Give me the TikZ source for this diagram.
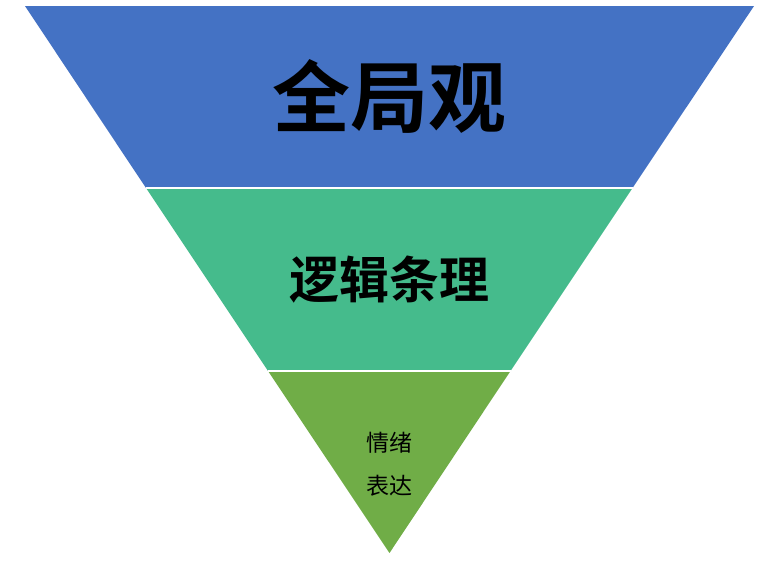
\documentclass[tikz,border=0pt]{standalone}
\usepackage{fontspec}
\newfontfamily\cjk{Noto Sans CJK SC}[BoldFont={Noto Sans CJK SC Bold}]
\definecolor{topblue}{HTML}{4472C4}
\definecolor{midgreen}{HTML}{45BB8C}
\definecolor{lowgreen}{HTML}{70AD47}
\begin{document}
\begin{tikzpicture}[x=1pt,y=-1pt,
  band/.style={draw=white,line width=1.6pt,line join=miter},
  label/.style={text=black,inner sep=0pt,align=center}]
\useasboundingbox (0,0) rectangle (779,570);
\coordinate (tl) at (25,6);
\coordinate (tr) at (754,6);
\coordinate (ml) at (146,188);
\coordinate (mr) at (632.5,188);
\coordinate (ll) at (268,371);
\coordinate (lr) at (510.5,371);
\coordinate (apex) at (389.5,553);
\fill[topblue] (tl) -- (tr) -- (mr) -- (ml) -- cycle;
\fill[midgreen] (ml) -- (mr) -- (lr) -- (ll) -- cycle;
\fill[lowgreen] (ll) -- (lr) -- (apex) -- cycle;
\draw[white,line width=1.8pt] (ml) -- (mr);
\draw[white,line width=1.8pt] (ll) -- (lr);
\node[label,font=\cjk\bfseries\fontsize{78}{80}\selectfont] (t1) at (389.5,97) {全局观};
\node[label,font=\cjk\bfseries\fontsize{50}{52}\selectfont] (t2) at (389.5,280) {逻辑条理};
\node[label,font=\cjk\fontsize{23}{43}\selectfont] (t3) at (389.5,464) {情绪\\表达};
\end{tikzpicture}
\end{document}
